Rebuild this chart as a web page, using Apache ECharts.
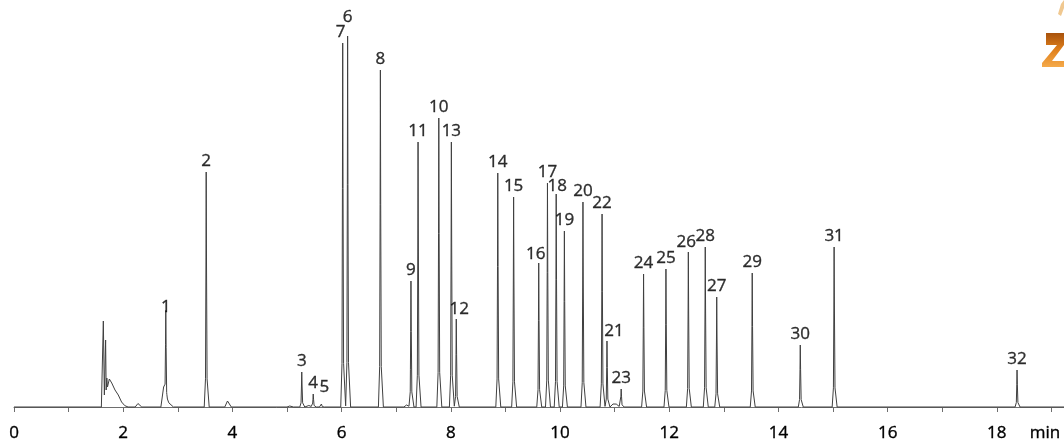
<!DOCTYPE html>
<html>
<head>
<meta charset="utf-8">
<script src="https://cdn.jsdelivr.net/npm/echarts@6/dist/echarts.min.js"></script>
<style>
html,body{margin:0;padding:0;background:#fff;}
#chart{width:1064px;height:444px;}
</style>
</head>
<body>
<div id="chart"></div>
<script>
// ---- data (time in min, signal in arbitrary units) ----
const peakNames   = ['1','2','3','4','5','6','7','8','9','10','11','12','13','14','15','16','17','18','19','20','21','22','23','24','25','26','27','28','29','30','31','32'];
const peakTimes   = [2.78,3.52,5.27,5.48,5.63,6.11,6.02,6.71,7.27,7.78,7.40,8.10,8.01,8.86,9.15,9.61,9.77,9.93,10.08,10.42,10.86,10.77,11.12,11.53,11.94,12.35,12.87,12.66,13.52,14.40,15.02,18.37];
const peakHeights = [88,235,35,13,3,371,364,337,126,289,265,88,265,234,210,144,224,213,176,205,66,193,18,133,138,155,110,160,134,62,160,37];

// small bumps / shoulders without labels
const minorTimes   = [2.27,2.74,2.85,3.91,5.05,5.40,7.19,10.97,11.03];
const minorHeights = [3.5,20,6,6,1,1.5,2,3,2.5];

// solvent front region
const solventTimes   = [1.60,1.636,1.655,1.678,1.688,1.700,1.712,1.746,1.79,1.85,1.91,1.97,2.03,2.09];
const solventHeights = [0,86,12,67,17,29,20,28,24,17,12,5,1.3,0];

const xTickLabels = ['0','2','4','6','8','10','12','14','16','18'];
const xUnit = 'min';

// ---- shapes / styles ----
const peakShape  = [[-0.036,0],[-0.013,0.12],[-0.005,0.6],[0,1],[0.006,0.6],[0.016,0.12],[0.055,0]];
const minorShape = [[-0.05,0],[0,1],[0.07,0]];
const labelOffsets = {'6':[0,-8],'7':[-2,0],'18':[1,3],'21':[7,1],'5':[3,-6],'12':[3,1],'26':[-2,1],'16':[-3,2],'1':[0,-1]};

const X_MIN = 0, X_MAX = 19.23;

// build components as piecewise linear functions
const comps = [];
peakTimes.forEach((t,i)=>comps.push(peakShape.map(p=>[t+p[0], p[1]*peakHeights[i]])));
minorTimes.forEach((t,i)=>comps.push(minorShape.map(p=>[t+p[0], p[1]*minorHeights[i]])));
comps.push(solventTimes.map((t,i)=>[t, solventHeights[i]]));

function evalComp(c, x){
  if (x <= c[0][0] || x >= c[c.length-1][0]) return 0;
  for (let k=0;k<c.length-1;k++){
    const a=c[k], b=c[k+1];
    if (x>=a[0] && x<=b[0]){
      return a[1] + (b[1]-a[1])*(x-a[0])/(b[0]-a[0]);
    }
  }
  return 0;
}
let xs = [X_MIN, X_MAX];
comps.forEach(c=>c.forEach(p=>xs.push(p[0])));
xs = Array.from(new Set(xs.map(v=>+v.toFixed(5)))).sort((a,b)=>a-b);
const trace = xs.map(x=>[x, comps.reduce((s,c)=>s+evalComp(c,x),0)]);

const labelData = peakNames.map((n,i)=>({
  name:n,
  value:[peakTimes[i], peakHeights[i]],
  label: labelOffsets[n] ? {offset: labelOffsets[n]} : undefined
}));

const FONT = 'Open Sans';
const TXT = {color:'#000', fontFamily:FONT, fontSize:17, fontWeight:500, textBorderColor:'#000', textBorderWidth:0.35};
const chart = echarts.init(document.getElementById('chart'), null, {renderer:'canvas'});
chart.setOption({
  animation:false,
  backgroundColor:'#ffffff',
  grid:{left:14, right:0, top:0, bottom:26, containLabel:false, outerBoundsMode:'none'},
  xAxis:{
    type:'value', min:X_MIN, max:X_MAX, interval:1,
    axisLine:{show:true, lineStyle:{color:'#6e6e6e', width:1}},
    axisTick:{show:true, length:5, lineStyle:{color:'#6e6e6e'}},
    splitLine:{show:false},
    axisLabel:Object.assign({
      show:true, margin:7,
      showMaxLabel:false, hideOverlap:false,
      formatter:function(v){
        const idx = xTickLabels.indexOf(String(v));
        if (idx>=0) return xTickLabels[idx];
        if (v===19) return '{u|' + xUnit + '}';
        return '';
      },
      rich:{u:Object.assign({padding:[0,13,0,0]}, TXT)}
    }, TXT)
  },
  yAxis:{type:'value', min:-11, max:407, show:false, splitLine:{show:false}},
  series:[
    {
      type:'line', data:trace, showSymbol:false, symbol:'none', sampling:false,
      lineStyle:{color:'#404040', width:1}, silent:true, z:2
    },
    {
      type:'scatter', data:labelData, symbolSize:0, silent:true, z:3,
      label:Object.assign({show:true, position:'top', distance:2, formatter:'{b}'}, TXT)
    }
  ],
  graphic:[
    {
      type:'polygon', z:10,
      shape:{points:[[1046,33],[1064,33],[1064,45],[1052,61],[1064,61],[1064,67],[1042,67],[1042,63],[1057,45],[1046,45]]},
      style:{fill:new echarts.graphic.LinearGradient(0,0,0,1,[{offset:0,color:'#a8520c'},{offset:0.5,color:'#e0801c'},{offset:1,color:'#f5aa4a'}])}
    },
    {
      type:'polygon', z:10,
      shape:{points:[[1058,14],[1061,4],[1064,0],[1064,8],[1061,16]]},
      style:{fill:'#f0c890'}
    }
  ]
});
</script>
</body>
</html>
